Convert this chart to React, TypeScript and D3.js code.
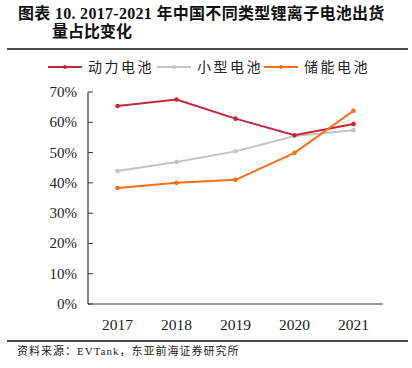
import React from "react";
import * as d3 from "d3";

const years = ["2017", "2018", "2019", "2020", "2021"];
const powerBattery = [65.4, 67.5, 61.2, 55.7, 59.4];
const smallBattery = [43.9, 46.9, 50.4, 55.5, 57.4];
const storageBattery = [38.3, 40.0, 41.0, 49.9, 63.8];
const seriesNames = ["动力电池", "小型电池", "储能电池"];
const seriesColors = ["#c4273a", "#c3c3c3", "#fb6d10"];
const yTicks = [0, 10, 20, 30, 40, 50, 60, 70];

const W = 412;
const H = 368;
const left = 88;
const right = 383;
const top = 92;
const bottom = 304;

export default function App() {
  const x = d3.scaleBand<string>().domain(years).range([left, right]);
  const y = d3.scaleLinear().domain([0, 70]).range([bottom, top]);
  const line = d3
    .line<number>()
    .x((_, i) => (x(years[i]) as number) + x.bandwidth() / 2)
    .y((d) => y(d));
  const allSeries = [powerBattery, smallBattery, storageBattery];
  const order = [1, 0, 2];
  const serif = "'Liberation Serif', 'Times New Roman', serif";
  const cjk = "'Liberation Serif', 'Noto Sans CJK SC', serif";
  const legendX = [48, 157, 264];

  return (
    <svg
      width={W}
      height={H}
      style={{ position: "absolute", left: 0, top: 0, background: "#fff" }}
    >
      <text
        x={18}
        y={19}
        fontFamily={cjk}
        fontWeight="bold"
        fontSize={16}
        letterSpacing={0.3}
        fill="#111"
      >
        图表 10. 2017-2021 年中国不同类型锂离子电池出货
      </text>
      <text x={52} y={37} fontFamily={cjk} fontWeight="bold" fontSize={16} fill="#111">
        量占比变化
      </text>
      <line x1={7} x2={408} y1={49} y2={49} stroke="#111" strokeWidth={1.5} />

      {seriesNames.map((name, i) => (
        <g key={name}>
          <line
            x1={legendX[i]}
            x2={legendX[i] + 34}
            y1={67}
            y2={67}
            stroke={seriesColors[i]}
            strokeWidth={2}
          />
          <circle cx={legendX[i] + 17} cy={67} r={2} fill={seriesColors[i]} />
          <text
            x={legendX[i] + 40}
            y={72}
            fontFamily={cjk}
            fontSize={14}
            letterSpacing={2.5}
            fill="#222"
          >
            {name}
          </text>
        </g>
      ))}

      {yTicks.map((t) => (
        <g key={t}>
          <line x1={left} x2={left + 5} y1={y(t)} y2={y(t)} stroke="#333" strokeWidth={1} />
          <text
            x={77}
            y={y(t) + 5}
            textAnchor="end"
            fontFamily={serif}
            fontSize={15}
            fill="#222"
          >
            {t}%
          </text>
        </g>
      ))}
      <line x1={left} x2={left} y1={top} y2={bottom} stroke="#333" strokeWidth={1.2} />
      <line x1={left} x2={right} y1={bottom} y2={bottom} stroke="#333" strokeWidth={1.2} />
      {years.map((yr) => (
        <text
          key={yr}
          x={(x(yr) as number) + x.bandwidth() / 2}
          y={330}
          textAnchor="middle"
          fontFamily={serif}
          fontSize={15.5}
          fill="#222"
        >
          {yr}
        </text>
      ))}

      {order.map((si) => (
        <g key={si}>
          <path
            d={line(allSeries[si]) as string}
            fill="none"
            stroke={seriesColors[si]}
            strokeWidth={2}
          />
          {allSeries[si].map((v, i) => (
            <circle
              key={i}
              cx={(x(years[i]) as number) + x.bandwidth() / 2}
              cy={y(v)}
              r={2.3}
              fill={seriesColors[si]}
            />
          ))}
        </g>
      ))}

      <line x1={7} x2={408} y1={341} y2={341} stroke="#111" strokeWidth={1.5} />
      <text x={17} y={355} fontFamily={cjk} fontSize={11} letterSpacing={1} fill="#222">
        资料来源：EVTank，东亚前海证券研究所
      </text>
    </svg>
  );
}
